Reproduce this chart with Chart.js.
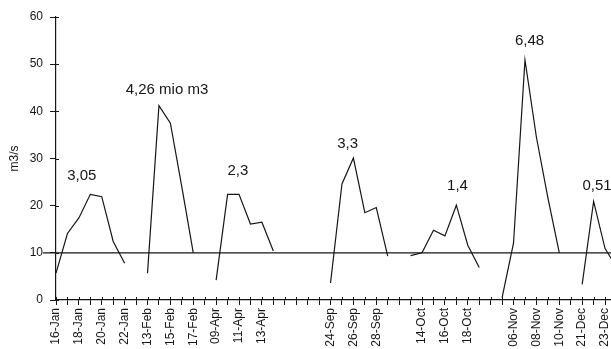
<!DOCTYPE html>
<html><head><meta charset="utf-8">
<script src="https://cdn.jsdelivr.net/npm/chart.js@4"></script>
<style>html,body{margin:0;padding:0;background:#fff;overflow:hidden}#wrap{width:611px;height:349px;position:relative}</style>
</head><body><div id="wrap"><canvas id="c" width="611" height="349"></canvas></div>
<script>
const tickLabels = ['16-Jan','','18-Jan','','20-Jan','','22-Jan','','13-Feb','','15-Feb','','17-Feb','',
  '09-Apr','','11-Apr','','13-Apr','','','','','','24-Sep','','26-Sep','','28-Sep','','','',
  '14-Oct','','16-Oct','','18-Oct','','','','06-Nov','','08-Nov','','10-Nov','','21-Dec','','23-Dec',''];
const flowValues = [5.7,14.1,17.4,22.4,21.9,12.4,7.8,null,
  5.7,41.2,37.5,24,10,null,
  4.2,22.4,22.4,16.1,16.5,10.4,null,null,null,null,
  3.6,24.6,30.1,18.5,19.6,9.3,null,
  9.4,10.0,14.8,13.6,20.1,11.6,6.9,null,
  0.5,12.1,50.9,34.5,21.7,10.0,null,
  3.3,20.9,10.9,7];
const yTicks = [0,10,20,30,40,50,60];
const referenceLevel = 10;
const volumeLabels = ['3,05','4,26 mio m3','2,3','3,3','1,4','6,48','0,51'];
const volumeLabelX = [2.25, 9.7, 15.9, 25.5, 35.1, 41.4, 47.3];
const volumeLabelY = [26.3, 44.5, 27.3, 33.0, 24.3, 54.9, 24.1];

const FONT = "'Liberation Sans', Arial, Helvetica, sans-serif";
const INK = '#161616';

const points = flowValues.map((v, i) => ({x: i, y: v}));

const refLine = {
  id: 'refLine',
  beforeDatasetsDraw(chart) {
    const {ctx, chartArea, scales} = chart;
    const y = scales.y.getPixelForValue(referenceLevel);
    ctx.save();
    ctx.strokeStyle = INK; ctx.lineWidth = 1.1;
    ctx.beginPath(); ctx.moveTo(chartArea.left - 13, y); ctx.lineTo(chartArea.right, y); ctx.stroke();
    ctx.restore();
  }
};
const crossTicks = {
  id: 'crossTicks',
  afterDraw(chart) {
    const {ctx, chartArea, scales} = chart;
    ctx.save();
    ctx.strokeStyle = INK; ctx.lineWidth = 1;
    ctx.beginPath();
    scales.x.ticks.forEach(t => {
      const px = Math.round(scales.x.getPixelForValue(t.value)) + 0.5;
      ctx.moveTo(px, chartArea.bottom - 3); ctx.lineTo(px, chartArea.bottom);
    });
    scales.y.ticks.forEach(t => {
      const py = Math.round(scales.y.getPixelForValue(t.value)) + 0.5;
      ctx.moveTo(chartArea.left, py); ctx.lineTo(chartArea.left + 3, py);
    });
    ctx.stroke();
    ctx.restore();
  }
};
const volumeText = {
  id: 'volumeText',
  afterDatasetsDraw(chart) {
    const {ctx, scales} = chart;
    ctx.save();
    ctx.fillStyle = INK;
    ctx.font = '15px ' + FONT;
    ctx.textAlign = 'center'; ctx.textBaseline = 'middle';
    volumeLabels.forEach((t, i) => {
      ctx.fillText(t, scales.x.getPixelForValue(volumeLabelX[i]), scales.y.getPixelForValue(volumeLabelY[i]));
    });
    ctx.restore();
  }
};

new Chart(document.getElementById('c'), {
  type: 'line',
  data: { datasets: [{ data: points, borderColor: INK, borderWidth: 1.2, pointRadius: 0, spanGaps: false, tension: 0, fill: false }] },
  options: {
    responsive: false, animation: false, devicePixelRatio: 1,
    layout: { padding: { top: 17, left: 0, right: 0, bottom: 0 } },
    plugins: { legend: { display: false }, tooltip: { enabled: false } },
    scales: {
      x: {
        type: 'linear', min: 0, max: 48.52,
        ticks: { stepSize: 1, autoSkip: false, includeBounds: false, maxTicksLimit: 100,
          minRotation: 90, maxRotation: 90, padding: 3, color: INK, font: { size: 12, family: FONT },
          callback: (v) => tickLabels[Math.round(v)] || '' },
        grid: { drawOnChartArea: false, tickLength: 5, color: INK, lineWidth: 1 },
        border: { display: true, color: INK, width: 1.2 },
        afterFit: (s) => { s.height = 49; s.paddingLeft = 0; s.paddingRight = 0; }
      },
      y: {
        min: 0, max: 60,
        afterBuildTicks: (s) => { s.ticks = yTicks.map(v => ({ value: v })); },
        ticks: { padding: 7, color: INK, font: { size: 12, family: FONT } },
        grid: { drawOnChartArea: false, tickLength: 6, color: INK, lineWidth: 1 },
        border: { display: true, color: INK, width: 1.2 },
        title: { display: true, text: 'm3/s', color: INK, font: { size: 12, family: FONT }, padding: { top: 7, bottom: 0 } },
        afterFit: (s) => { s.width = 56; }
      }
    }
  },
  plugins: [refLine, crossTicks, volumeText]
});
</script></body></html>
